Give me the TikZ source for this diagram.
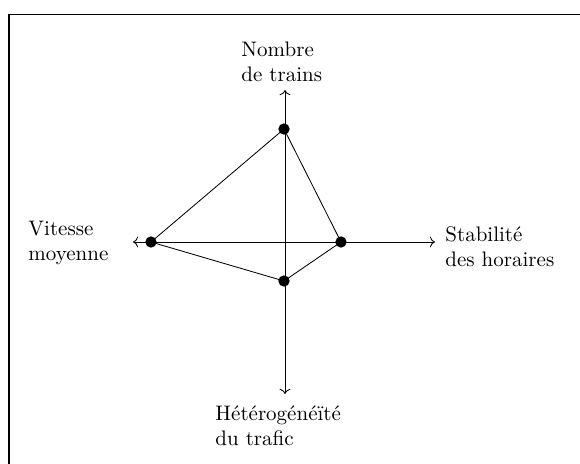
\documentclass[tikz,border=0pt]{standalone}
\usetikzlibrary{arrows.meta}
\begin{document}
\begin{tikzpicture}[x=0.476pt,y=-0.476pt,
  lbl/.style={inner sep=0pt, align=left, anchor=north west},
  dot/.style={circle, fill=black, inner sep=0pt, minimum size=5.4pt},
  axis/.style={->, line width=0.4pt},
  edge/.style={line width=0.4pt}]
\useasboundingbox (0,0) rectangle (580,464);
\coordinate (fa) at (9,14.5);
\coordinate (fb) at (580,14.5);
\coordinate (fc) at (9,464);
\draw[line width=0.6pt] (fb) -- (fa) -- (fc);
\coordinate (O) at (285,242);
\coordinate (tN) at (285,90);
\coordinate (tS) at (285,394);
\coordinate (tW) at (133,242);
\coordinate (tE) at (435,242);
\draw[axis] (O) -- (tN);
\draw[axis] (O) -- (tS);
\draw[axis] (O) -- (tW);
\draw[axis] (O) -- (tE);
\node[dot] (pN) at (284,129) {};
\node[dot] (pW) at (151,242) {};
\node[dot] (pE) at (341,242) {};
\node[dot] (pS) at (284,281) {};
\draw[edge] (pN.center) -- (pE.center) -- (pS.center) -- (pW.center) -- cycle;
\node[lbl] (lN) at (241,41) {Nombre\\de trains};
\node[lbl] (lS) at (215,405) {Hétérogénéïté\\du trafic};
\node[lbl] (lW) at (28,221) {Vitesse\\moyenne};
\node[lbl] (lE) at (445,226) {Stabilité\\des horaires};
\end{tikzpicture}
\end{document}
